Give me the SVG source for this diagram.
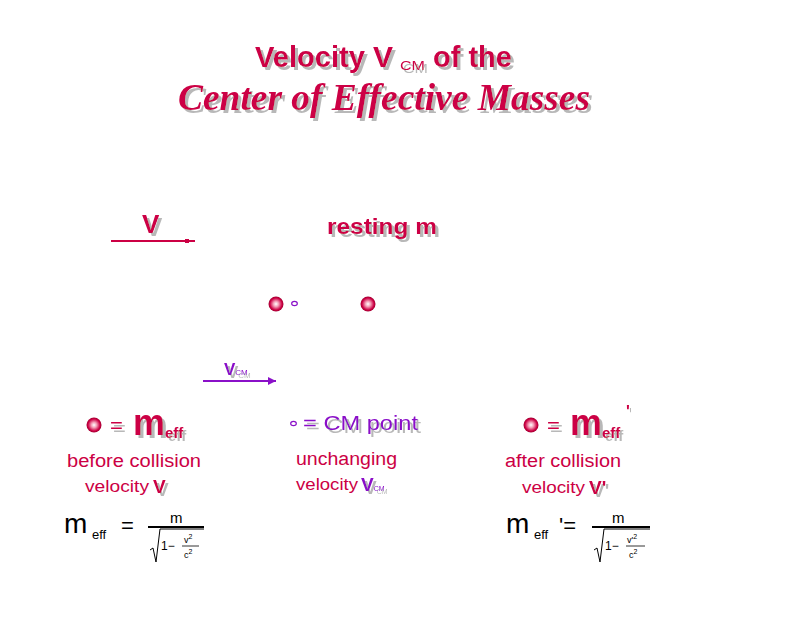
<svg xmlns="http://www.w3.org/2000/svg" width="800" height="620" viewBox="0 0 800 620">
<style>
.t{font-family:"Liberation Sans",Arial,sans-serif}
.b{font-weight:bold}
.red{fill:#cc0044}
.pur{fill:#8a10c8}
.blk{fill:#000}
.sh{filter:url(#shadow)}
</style>
<defs>
<filter id="shadow" x="-10%" y="-20%" width="130%" height="150%">
<feOffset in="SourceAlpha" dx="3" dy="3" result="o"/>
<feFlood flood-color="#b8b8b8"/>
<feComposite in2="o" operator="in" result="s"/>
<feMerge><feMergeNode in="s"/><feMergeNode in="SourceGraphic"/></feMerge>
</filter>
<radialGradient id="ball" cx="50%" cy="50%" r="50%">
<stop offset="0" stop-color="#ffffff"/>
<stop offset="0.35" stop-color="#f4a0b8"/>
<stop offset="0.8" stop-color="#cc0044"/>
<stop offset="1" stop-color="#a00030"/>
</radialGradient>
</defs>
<rect width="800" height="620" fill="#fff"/>

<g id="title">
<text class="t b red sh" x="255" y="67" font-size="29" textLength="110" lengthAdjust="spacingAndGlyphs">Velocity</text>
<text class="t b red sh" x="373" y="67" font-size="30">V</text>
<text class="t red sh" x="400" y="70" font-size="13" textLength="25" lengthAdjust="spacingAndGlyphs">CM</text>
<text class="t b red sh" x="433" y="67" font-size="30" textLength="79" lengthAdjust="spacingAndGlyphs">of the</text>
<text class="red sh" x="178" y="110" font-family="'Liberation Serif',serif" font-style="italic" font-weight="bold" font-size="38" textLength="412" lengthAdjust="spacingAndGlyphs">Center of Effective Masses</text>
</g>

<g id="connectors">
<line x1="111" y1="241" x2="195" y2="241" stroke="#cc0044" stroke-width="2"/>
<rect x="185" y="239" width="4" height="4" fill="#cc0044"/>
<line x1="203" y1="381" x2="276" y2="381" stroke="#8a10c8" stroke-width="2"/>
<polygon points="268,377 276,381 268,385" fill="#8a10c8"/>
</g>

<g id="label-v">
<text class="t b red sh" x="142" y="233" font-size="26">V</text>
</g>
<g id="label-resting">
<text class="t b red sh" x="327" y="234" font-size="22" textLength="110" lengthAdjust="spacingAndGlyphs">resting m</text>
</g>
<g id="ball-moving">
<circle cx="276" cy="304" r="7.5" fill="url(#ball)"/>
</g>
<g id="cm-point">
<ellipse cx="294.5" cy="303.5" rx="2.8" ry="2.2" fill="none" stroke="#8a10c8" stroke-width="1.2"/>
</g>
<g id="ball-resting">
<circle cx="368" cy="304" r="7.5" fill="url(#ball)"/>
</g>
<g id="label-vcm">
<text class="t b pur sh" x="224" y="375" font-size="17">V<tspan font-size="8" font-weight="normal">CM</tspan></text>
</g>

<g id="legend-left">
<circle cx="94" cy="425" r="7.5" fill="url(#ball)"/>
<text class="t red sh" x="110" y="433" font-size="22">=</text>
<text class="t b red sh" x="133" y="435" font-size="36" textLength="32" lengthAdjust="spacingAndGlyphs">m</text>
<text class="t b red sh" x="165" y="438" font-size="15">eff</text>
<text class="t red" x="67" y="467" font-size="18" textLength="134" lengthAdjust="spacingAndGlyphs">before collision</text>
<text class="t red" x="85" y="492" font-size="17" textLength="64" lengthAdjust="spacingAndGlyphs">velocity</text>
<text class="t b red sh" x="153" y="493" font-size="19">V</text>
</g>
<g id="formula-left">
<text class="t blk" x="64" y="533" font-size="28">m</text>
<text class="t blk" x="92" y="539" font-size="13">eff</text>
<text class="t blk" x="121" y="533" font-size="22">=</text>
<text class="t blk" x="170" y="523" font-size="15">m</text>
<line x1="148" y1="527" x2="204" y2="527" stroke="#000" stroke-width="2"/>
<polyline points="150,550 153,548 156,562 160,529 204,529" fill="none" stroke="#000" stroke-width="1"/>
<text class="t blk" x="161" y="550" font-size="12">1−</text>
<text class="t blk" x="184" y="543" font-size="9">v<tspan font-size="7" dy="-4">2</tspan></text>
<line x1="182" y1="546" x2="199" y2="546" stroke="#000" stroke-width="0.8"/>
<text class="t blk" x="184" y="558" font-size="9">c<tspan font-size="7" dy="-4">2</tspan></text>
</g>

<g id="legend-middle">
<ellipse cx="293.5" cy="423.5" rx="2.8" ry="2.2" fill="none" stroke="#8a10c8" stroke-width="1.2"/>
<text class="t pur sh" x="303" y="430" font-size="20" textLength="115" lengthAdjust="spacingAndGlyphs">= CM point</text>
<text class="t red" x="296" y="465" font-size="18" textLength="101" lengthAdjust="spacingAndGlyphs">unchanging</text>
<text class="t red" x="296" y="490" font-size="17" textLength="62" lengthAdjust="spacingAndGlyphs">velocity</text>
<text class="t b pur sh" x="361" y="491" font-size="19">V<tspan font-size="7" font-weight="normal">CM</tspan></text>
</g>

<g id="legend-right">
<circle cx="531" cy="425" r="7.5" fill="url(#ball)"/>
<text class="t red sh" x="547" y="433" font-size="22">=</text>
<text class="t b red sh" x="570" y="435" font-size="36" textLength="32" lengthAdjust="spacingAndGlyphs">m</text>
<text class="t b red sh" x="602" y="438" font-size="15">eff</text>
<text class="t b red sh" x="626" y="417" font-size="16">'</text>
<text class="t red" x="505" y="467" font-size="18" textLength="116" lengthAdjust="spacingAndGlyphs">after collision</text>
<text class="t red" x="522" y="493" font-size="17" textLength="63" lengthAdjust="spacingAndGlyphs">velocity</text>
<text class="t b red sh" x="589" y="494" font-size="19">V'</text>
</g>
<g id="formula-right">
<text class="t blk" x="506" y="533" font-size="28">m</text>
<text class="t blk" x="534" y="539" font-size="13">eff</text>
<text class="t blk" x="559" y="533" font-size="22">'=</text>
<text class="t blk" x="612" y="523" font-size="15">m</text>
<line x1="592" y1="527" x2="650" y2="527" stroke="#000" stroke-width="2"/>
<polyline points="594,550 597,548 600,562 604,529 650,529" fill="none" stroke="#000" stroke-width="1"/>
<text class="t blk" x="605" y="550" font-size="12">1−</text>
<text class="t blk" x="627" y="543" font-size="9">v'<tspan font-size="7" dy="-4">2</tspan></text>
<line x1="626" y1="546" x2="645" y2="546" stroke="#000" stroke-width="0.8"/>
<text class="t blk" x="629" y="558" font-size="9">c<tspan font-size="7" dy="-4">2</tspan></text>
</g>
</svg>
